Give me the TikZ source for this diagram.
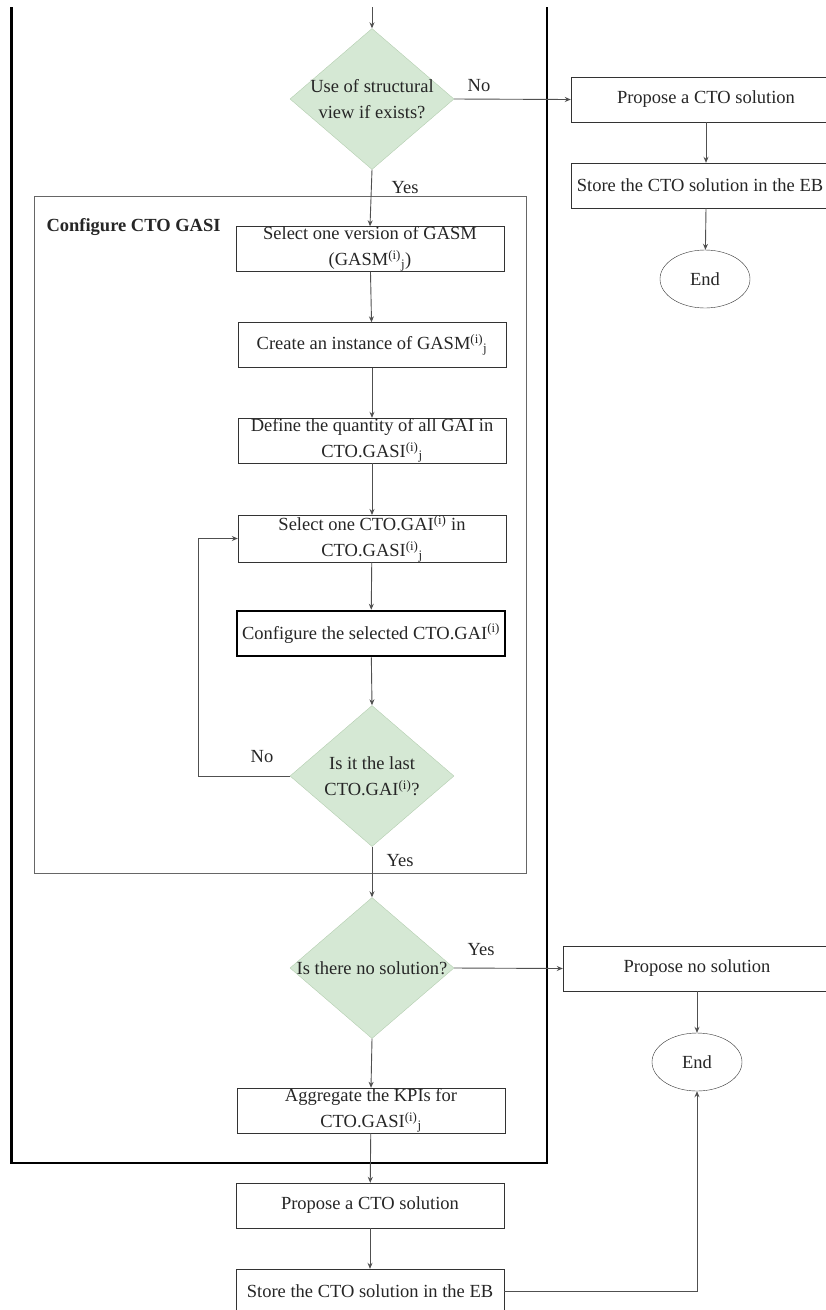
\documentclass[tikz,border=0pt]{standalone}
\usepackage{fontspec}
\setmainfont{Liberation Serif}
\usetikzlibrary{arrows.meta,positioning,shapes.geometric}
\definecolor{decfill}{RGB}{213,232,212}
\definecolor{decline}{RGB}{180,206,176}
\definecolor{flowline}{RGB}{80,80,80}

\begin{document}
\begin{tikzpicture}[x={(1pt,0pt)},y={(0pt,-1pt)},
  txt/.style={font=\fontsize{18.5}{26}\selectfont,text=black!85},
  stepbox/.style={txt,rectangle,draw=black!80,minimum width=268pt,minimum height=45pt,inner sep=0pt,align=center},
  decision/.style={diamond,draw=decline,fill=decfill,minimum width=164pt,minimum height=141pt,inner sep=0pt},
  endnode/.style={txt,ellipse,draw=black!80,minimum width=90pt,minimum height=58pt,inner sep=0pt},
  flow/.style={draw=flowline,line width=0.9pt,-{Stealth[length=6pt,width=5pt]}}]
\useasboundingbox (0,0) rectangle (826,1310);
% Outer frame, open at the top
\draw[line width=2.5pt] (11.5,7) -- (11.5,1163) -- (547,1163) -- (547,7);
% Inner frame: Configure CTO GASI
\draw[black!60,line width=1pt] (34.5,196) rectangle (526,873);
\node[txt,anchor=west] (gasiTitle) at (43,227) {\bfseries Configure CTO GASI};
% First decision
\coordinate (entry) at (372,7);
\node[decision,label={[txt,align=center]center:Use of structural\\view if exists?}] (decView) at (372,99) {};
% Branch without structural view
\node[stepbox,minimum width=270pt] (proposeA) at (706,99.5) {Propose a CTO solution};
\node[stepbox,minimum width=258pt] (storeA) at (700,185.5) {Store the CTO solution in the EB};
\node[endnode] (endA) at (705,279) {End};
% Steps inside the GASI frame
\node[stepbox] (pickGasm) at (370,249) {Select one version of GASM\\(GASM\textsuperscript{(i)}\textsubscript{j})};
\node[stepbox] (makeInst) at (372,345) {Create an instance of GASM\textsuperscript{(i)}\textsubscript{j}};
\node[stepbox] (defQty) at (372,440.5) {Define the quantity of all GAI in\\CTO.GASI\textsuperscript{(i)}\textsubscript{j}};
\node[stepbox] (pickGai) at (372,538.5) {Select one CTO.GAI\textsuperscript{(i)} in\\CTO.GASI\textsuperscript{(i)}\textsubscript{j}};
\node[stepbox,line width=2.5pt,draw=black] (confGai) at (371,633.5) {Configure the selected CTO.GAI\textsuperscript{(i)}};
\node[decision,label={[txt,align=center]center:Is it the last\\CTO.GAI\textsuperscript{(i)}?}] (decLast) at (372,776) {};
\coordinate (loopTurn) at (198,776);
% Solution check
\node[decision,label={[txt,align=center]center:Is there no solution?}] (decNone) at (372,968) {};
\node[stepbox] (noSol) at (697,968.5) {Propose no solution};
\node[endnode] (endB) at (697,1062) {End};
\node[stepbox] (aggKpi) at (371,1110.5) {Aggregate the KPIs for\\CTO.GASI\textsuperscript{(i)}\textsubscript{j}};
\node[stepbox] (proposeB) at (370,1205.5) {Propose a CTO solution};
\node[stepbox] (storeB) at (370,1291.5) {Store the CTO solution in the EB};
% Connectors
\draw[flow] (entry) -- (decView.north);
\draw[flow] (decView.east) -- (proposeA.west);
\draw[flow] (proposeA.south) -- (proposeA.south |- storeA.north);
\draw[flow] (proposeA.south |- storeA.south) -- (endA);
\draw[flow] (decView.south) -- (pickGasm.north);
\draw[flow] (pickGasm) -- (makeInst);
\draw[flow] (makeInst) -- (defQty);
\draw[flow] (defQty) -- (pickGai);
\draw[flow] (pickGai) -- (confGai);
\draw[flow] (confGai) -- (decLast.north);
\draw[flow] (decLast.west) -- (loopTurn) |- (pickGai.west);
\draw[flow] (decLast.south) -- (decNone.north);
\draw[flow] (decNone.east) -- (noSol.west);
\draw[flow] (noSol) -- (endB);
\draw[flow] (decNone.south) -- (aggKpi.north);
\draw[flow] (aggKpi) -- (proposeB);
\draw[flow] (proposeB) -- (storeB);
\draw[flow] (storeB.east) -| (endB.south);
% Branch labels
\node[txt] (noView) at (479,86) {No};
\node[txt] (yesView) at (405,188) {Yes};
\node[txt] (noLast) at (262,757) {No};
\node[txt] (yesLast) at (400,861) {Yes};
\node[txt] (yesNone) at (481,950) {Yes};
\end{tikzpicture}
\end{document}
